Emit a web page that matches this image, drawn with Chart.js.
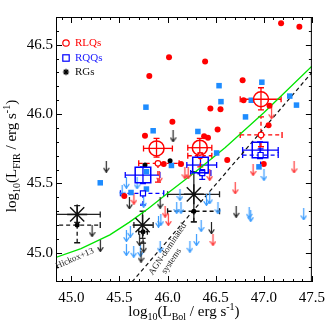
<!DOCTYPE html>
<html><head><meta charset="utf-8">
<script src="https://cdn.jsdelivr.net/npm/chart.js@4.4.0/dist/chart.umd.min.js"></script>
<style>html,body{margin:0;padding:0;background:#fff;}canvas{display:block;}</style>
</head><body>
<canvas id="c" width="332" height="332"></canvas>
<script>
// ---------- axes ----------
const xRange = [44.84, 47.5];
const yRange = [44.79, 46.70];
const xTickValues = [45.0, 45.5, 46.0, 46.5, 47.0, 47.5];
const yTickValues = [45.0, 45.5, 46.0, 46.5];
const legendLabels = ['RLQs', 'RQQs', 'RGs'];

// ---------- individual detections ----------
const rlqDetX = [47.18, 47.37, 46.015, 46.39, 46.78, 46.79, 46.445, 46.55, 47.06, 46.05, 46.52, 47.05, 46.38, 46.42, 46.62, 47.0, 46.14, 45.81, 45.765, 45.55, 45.96];
const rlqDetY = [46.655, 46.63, 46.41, 46.38, 46.245, 46.10, 46.04, 46.035, 46.06, 45.945, 45.89, 45.92, 45.84, 45.83, 45.67, 45.64, 45.64, 46.275, 45.845, 45.41, 45.64];
const rqqDetX = [45.775, 45.85, 46.535, 46.555, 46.98, 47.27, 47.34, 46.81, 46.315, 46.51, 46.87, 45.30, 45.62, 45.78, 45.78, 46.04, 46.95];
const rqqDetY = [46.05, 45.88, 46.205, 46.09, 46.23, 46.13, 46.065, 45.98, 45.875, 45.72, 46.10, 45.505, 45.435, 45.585, 45.46, 45.63, 45.62];
const rgDetX = [45.765, 46.026];
const rgDetY = [45.633, 45.664];

// ---------- upper limits ----------
const rlqUlX = [45.65, 45.916, 46.18, 46.214, 46.438, 45.974, 46.008, 46.472, 46.889, 47.315, 46.703, 47.081];
const rlqUlY = [45.39, 45.549, 45.573, 45.573, 45.561, 45.296, 45.236, 45.092, 45.597, 45.616, 45.465, 46.006];
const rqqUlX = [45.572, 45.683, 45.528, 45.751, 46.129, 46.095, 46.139, 46.404, 46.438, 45.93, 45.905, 45.613, 45.572, 45.572, 45.648, 45.717, 45.923, 46.232, 46.301, 46.524, 46.349, 47.002, 46.848, 46.864, 47.415];
const rqqUlY = [45.505, 45.501, 45.448, 45.368, 45.417, 45.323, 45.323, 45.381, 45.393, 45.236, 45.224, 45.152, 45.121, 45.02, 45.008, 45.013, 45.044, 45.044, 45.092, 45.321, 45.193, 45.561, 45.289, 45.265, 45.277];
const rgUlX = [45.603, 45.923, 46.456, 46.713, 45.709, 45.751, 45.724, 45.363, 46.057, 45.215, 45.301];
const rgUlY = [45.357, 45.361, 45.177, 45.296, 45.092, 45.044, 44.972, 45.621, 45.84, 45.157, 45.049];

// ---------- binned means (solid) ----------
const rlqBinX = [45.885, 46.335, 46.971];
const rlqBinY = [45.753, 45.758, 46.107];
const rlqBinXLo = [45.75, 46.21, 46.755];
const rlqBinXHi = [46.05, 46.46, 47.18];
const rlqBinYLo = [45.69, 45.69, 46.03];
const rlqBinYHi = [45.825, 45.825, 46.19];

const rqqBinX = [45.744, 46.342, 46.961];
const rqqBinY = [45.561, 45.633, 45.741];
const rqqBinXLo = [45.56, 46.20, 46.78];
const rqqBinXHi = [45.92, 46.51, 47.15];
const rqqBinYLo = [45.50, 45.57, 45.68];
const rqqBinYHi = [45.62, 45.69, 45.80];

const rgBinX = [45.06, 45.74, 46.273];
const rgBinY = [45.277, 45.20, 45.422];
const rgBinXLo = [44.80, 45.65, 46.0];
const rgBinXHi = [45.30, 45.85, 46.54];
const rgBinYLo = [45.22, 45.105, 45.224];
const rgBinYHi = [45.34, 45.30, 45.585];

// ---------- stacked (dashed) ----------
const rlqStkX = [45.90, 46.34, 46.971];
const rlqStkY = [45.645, 45.70, 45.85];
const rlqStkXLo = [45.70, 46.21, 46.755];
const rlqStkXHi = [46.12, 46.46, 47.19];
const rlqStkYLo = [45.51, 45.62, 45.765];
const rlqStkYHi = [45.645, 45.72, 45.98];

const rqqStkX = [45.744, 46.36, 46.967];
const rqqStkY = [45.429, 45.575, 45.705];
const rqqStkXLo = [45.51, 46.24, 46.78];
const rqqStkXHi = [45.96, 46.45, 47.15];
const rqqStkYLo = [45.345, 45.53, 45.63];
const rqqStkYHi = [45.429, 45.60, 45.75];

const rgStkX = [45.06, 45.745, 46.273];
const rgStkY = [45.20, 45.152, 45.30];
const rgStkXLo = [44.80, 45.70, 46.0];
const rgStkXHi = [45.30, 45.79, 46.54];
const rgStkYLo = [45.073, 45.07, 45.224];
const rgStkYHi = [45.20, 45.152, 45.30];

// ---------- relations ----------
const hickoxX = [44.83, 45.1, 45.4, 45.6, 45.8, 46.0, 46.3, 46.6, 47.0, 47.5];
const hickoxY = [44.965, 45.03, 45.13, 45.22, 45.32, 45.43, 45.59, 45.76, 46.01, 46.345];
const agnX = [45.63, 47.5];
const agnY = [44.79, 46.30];

// ---------- colours ----------
const RED = '#ff0000', BLUE = '#0000ff', LBLUE = '#1e8cff', ARR_RED = '#ff3a3a', ARR_BLUE = '#3a9cff', ARR_BLACK = '#222222', GREEN = '#00e400';
const SERIF = '"Liberation Serif", "Times New Roman", serif';

const pts = (xs, ys) => xs.map((v, i) => ({x: v, y: ys[i]}));

function makeArrow(color) {
  const c = document.createElement('canvas');
  c.width = 7; c.height = 12;
  const g = c.getContext('2d');
  g.strokeStyle = color; g.lineWidth = 1.2; g.lineCap = 'round';
  g.beginPath(); g.moveTo(3.5, 0.5); g.lineTo(3.5, 11.2); g.stroke();
  g.beginPath(); g.moveTo(1.0, 7.6); g.lineTo(3.5, 11.3); g.lineTo(6.0, 7.6); g.stroke();
  return c;
}

const errorGroups = [
  {x: rgBinX, y: rgBinY, xlo: rgBinXLo, xhi: rgBinXHi, ylo: rgBinYLo, yhi: rgBinYHi, color: '#222', dash: [], w: 1.3},
  {x: rgStkX, y: rgStkY, xlo: rgStkXLo, xhi: rgStkXHi, ylo: rgStkYLo, yhi: rgStkYHi, color: '#111', dash: [4, 3], w: 1.3},
  {x: rqqBinX, y: rqqBinY, xlo: rqqBinXLo, xhi: rqqBinXHi, ylo: rqqBinYLo, yhi: rqqBinYHi, color: BLUE, dash: [], w: 1.3},
  {x: rqqStkX, y: rqqStkY, xlo: rqqStkXLo, xhi: rqqStkXHi, ylo: rqqStkYLo, yhi: rqqStkYHi, color: BLUE, dash: [4, 3], w: 1.3},
  {x: rlqBinX, y: rlqBinY, xlo: rlqBinXLo, xhi: rlqBinXHi, ylo: rlqBinYLo, yhi: rlqBinYHi, color: RED, dash: [], w: 1.3},
  {x: rlqStkX, y: rlqStkY, xlo: rlqStkXLo, xhi: rlqStkXHi, ylo: rlqStkYLo, yhi: rlqStkYHi, color: RED, dash: [4, 3], w: 1.3}
];

const errorBarPlugin = {
  id: 'errbars',
  beforeDatasetsDraw(chart) {
    const {ctx, chartArea: a, scales: {x: xs, y: ys}} = chart;
    ctx.save();
    ctx.beginPath(); ctx.rect(a.left, a.top, a.right - a.left, a.bottom - a.top); ctx.clip();
    const cap = 3;
    for (const g of errorGroups) {
      ctx.strokeStyle = g.color; ctx.lineWidth = g.w;
      for (let i = 0; i < g.x.length; i++) {
        const px = xs.getPixelForValue(g.x[i]), py = ys.getPixelForValue(g.y[i]);
        const x0 = xs.getPixelForValue(g.xlo[i]), x1 = xs.getPixelForValue(g.xhi[i]);
        const y0 = ys.getPixelForValue(g.ylo[i]), y1 = ys.getPixelForValue(g.yhi[i]);
        ctx.setLineDash(g.dash);
        ctx.beginPath(); ctx.moveTo(x0, py); ctx.lineTo(x1, py); ctx.stroke();
        ctx.beginPath(); ctx.moveTo(px, y0); ctx.lineTo(px, y1); ctx.stroke();
        ctx.setLineDash([]);
        ctx.beginPath();
        if (Math.abs(x0 - px) > 1) { ctx.moveTo(x0, py - cap); ctx.lineTo(x0, py + cap); }
        if (Math.abs(x1 - px) > 1) { ctx.moveTo(x1, py - cap); ctx.lineTo(x1, py + cap); }
        if (Math.abs(y0 - py) > 1) { ctx.moveTo(px - cap, y0); ctx.lineTo(px + cap, y0); }
        if (Math.abs(y1 - py) > 1) { ctx.moveTo(px - cap, y1); ctx.lineTo(px + cap, y1); }
        ctx.stroke();
      }
    }
    ctx.restore();
  }
};

function drawRich(ctx, parts, x, y, rotate) {
  const big = 15, small = 10;
  const fontFor = k => (k ? small : big) + 'px ' + SERIF;
  const widths = parts.map(([t, k]) => { ctx.font = fontFor(k); return ctx.measureText(t).width; });
  const total = widths.reduce((s, w) => s + w, 0);
  ctx.save();
  ctx.translate(x, y);
  if (rotate) ctx.rotate(-Math.PI / 2);
  ctx.textAlign = 'left'; ctx.textBaseline = 'alphabetic'; ctx.fillStyle = '#000';
  let cx = -total / 2;
  parts.forEach(([t, k], i) => {
    ctx.font = fontFor(k);
    const dy = k === 1 ? 4 : (k === 2 ? -6 : 0);
    ctx.fillText(t, cx, dy);
    cx += widths[i];
  });
  ctx.restore();
}

const decorPlugin = {
  id: 'decor',
  afterDraw(chart) {
    const {ctx, chartArea: a, scales: {x: xs, y: ys}} = chart;
    ctx.save();
    // frame
    ctx.strokeStyle = '#000'; ctx.lineWidth = 1; ctx.setLineDash([]);
    ctx.strokeRect(a.left + 0.5, a.top + 0.5, a.right - a.left - 1, a.bottom - a.top - 1);
    // inward ticks on all sides
    ctx.beginPath();
    for (let k = Math.ceil(xRange[0] * 10); k <= Math.floor(xRange[1] * 10); k++) {
      const p = Math.round(xs.getPixelForValue(k / 10)) + 0.5;
      const len = k % 5 === 0 ? 6 : 3;
      ctx.moveTo(p, a.bottom); ctx.lineTo(p, a.bottom - len);
      ctx.moveTo(p, a.top); ctx.lineTo(p, a.top + len);
    }
    for (let k = Math.ceil(yRange[0] * 10); k <= Math.floor(yRange[1] * 10); k++) {
      const p = Math.round(ys.getPixelForValue(k / 10)) + 0.5;
      const len = k % 5 === 0 ? 6 : 3;
      ctx.moveTo(a.left, p); ctx.lineTo(a.left + len, p);
      ctx.moveTo(a.right, p); ctx.lineTo(a.right - len, p);
    }
    ctx.stroke();

    // legend
    const lx = a.left + 10, tx = a.left + 19;
    const rows = [a.top + 26, a.top + 41, a.top + 55];
    ctx.lineWidth = 1.2;
    ctx.strokeStyle = RED; ctx.beginPath(); ctx.arc(lx, rows[0], 3.2, 0, Math.PI * 2); ctx.stroke();
    ctx.strokeStyle = BLUE; ctx.strokeRect(lx - 3.2, rows[1] - 3.2, 6.4, 6.4);
    ctx.strokeStyle = '#000'; ctx.beginPath();
    for (let j = 0; j < 4; j++) { const an = j * Math.PI / 4; ctx.moveTo(lx - 3.2 * Math.cos(an), rows[2] - 3.2 * Math.sin(an)); ctx.lineTo(lx + 3.2 * Math.cos(an), rows[2] + 3.2 * Math.sin(an)); }
    ctx.stroke();
    ctx.font = '11px ' + SERIF; ctx.textBaseline = 'middle'; ctx.textAlign = 'left';
    ctx.fillStyle = RED; ctx.fillText(legendLabels[0], tx, rows[0] + 0.5);
    ctx.fillStyle = '#1a1aff'; ctx.fillText(legendLabels[1], tx, rows[1] + 0.5);
    ctx.fillStyle = '#111'; ctx.fillText(legendLabels[2], tx, rows[2] + 0.5);

    // annotations
    ctx.fillStyle = '#222'; ctx.font = '9px ' + SERIF; ctx.textAlign = 'center'; ctx.textBaseline = 'middle';
    const ann = (txt, xv, yv, deg) => {
      ctx.save(); ctx.translate(xs.getPixelForValue(xv), ys.getPixelForValue(yv)); ctx.rotate(deg * Math.PI / 180);
      ctx.fillText(txt, 0, 0); ctx.restore();
    };
    ann('Hickox+13', 45.035, 44.959, -23);
    ann('AGN-dominated', 46.00, 45.027, -56);
    ann('systems', 46.04, 44.94, -56);

    // axis titles
    drawRich(ctx, [['log', 0], ['10', 1], ['(L', 0], ['Bol', 1], [' / erg s', 0], ['-1', 2], [')', 0]], (a.left + a.right) / 2, 316, false);
    drawRich(ctx, [['log', 0], ['10', 1], ['(L', 0], ['FIR', 1], [' / erg s', 0], ['-1', 2], [')', 0]], 16, 156, true);
    ctx.restore();
  }
};

const ds = [
  {data: pts(rgBinX, rgBinY), pointStyle: 'star', pointRadius: 10, borderColor: '#111', borderWidth: 1.4, backgroundColor: 'transparent'},
  {data: pts(rqqBinX, rqqBinY), pointStyle: 'rect', pointRadius: 11, borderColor: BLUE, borderWidth: 1.5, backgroundColor: 'transparent'},
  {data: pts(rlqBinX, rlqBinY), pointStyle: 'circle', pointRadius: 7.5, borderColor: RED, borderWidth: 1.5, backgroundColor: 'transparent'},
  {data: pts(rgStkX, rgStkY), pointStyle: 'circle', pointRadius: 2.5, borderWidth: 0, backgroundColor: '#000'},
  {data: pts(rqqStkX, rqqStkY), pointStyle: 'rect', pointRadius: 3.6, borderColor: BLUE, borderWidth: 1.2, backgroundColor: '#fff'},
  {data: pts(rlqStkX, rlqStkY), pointStyle: 'circle', pointRadius: 2.8, borderColor: RED, borderWidth: 1.2, backgroundColor: '#fff'},
  {data: pts(rgDetX, rgDetY), pointStyle: 'circle', pointRadius: 2.5, borderWidth: 0, backgroundColor: '#000'},
  {data: pts(rqqDetX, rqqDetY), pointStyle: 'rect', pointRadius: 3.9, borderWidth: 0, backgroundColor: LBLUE},
  {data: pts(rlqDetX, rlqDetY), pointStyle: 'circle', pointRadius: 3, borderWidth: 0, backgroundColor: RED},
  {data: pts(rgUlX, rgUlY), pointStyle: makeArrow(ARR_BLACK), pointRadius: 5},
  {data: pts(rlqUlX, rlqUlY), pointStyle: makeArrow(ARR_RED), pointRadius: 5},
  {data: pts(rqqUlX, rqqUlY), pointStyle: makeArrow(ARR_BLUE), pointRadius: 5},
  {data: pts(agnX, agnY), showLine: true, pointRadius: 0, borderColor: '#111', borderWidth: 1.2, borderDash: [4, 3], fill: false},
  {data: pts(hickoxX, hickoxY), showLine: true, pointRadius: 0, borderColor: GREEN, borderWidth: 1.3, fill: false, tension: 0}
];

new Chart(document.getElementById('c'), {
  type: 'scatter',
  data: {datasets: ds},
  options: {
    responsive: false, animation: false, devicePixelRatio: 1, events: [],
    layout: {padding: {left: 0, top: 17, right: 17, bottom: 0}},
    plugins: {legend: {display: false}, tooltip: {enabled: false}},
    scales: {
      x: {
        type: 'linear', min: xRange[0], max: xRange[1],
        afterFit: s => { s.height = 50; },
        afterBuildTicks: s => { s.ticks = xTickValues.map(v => ({value: v})); },
        ticks: {callback: v => Number(v).toFixed(1), color: '#000', font: {family: SERIF, size: 15}, padding: 7, maxRotation: 0, autoSkip: false},
        grid: {display: false, drawTicks: false}, border: {display: false}
      },
      y: {
        type: 'linear', min: yRange[0], max: yRange[1],
        afterFit: s => { s.width = 56; },
        afterBuildTicks: s => { s.ticks = yTickValues.map(v => ({value: v})); },
        ticks: {callback: v => Number(v).toFixed(1), color: '#000', font: {family: SERIF, size: 15}, padding: 3, autoSkip: false},
        grid: {display: false, drawTicks: false}, border: {display: false}
      }
    }
  },
  plugins: [errorBarPlugin, decorPlugin]
});
</script>
</body></html>
